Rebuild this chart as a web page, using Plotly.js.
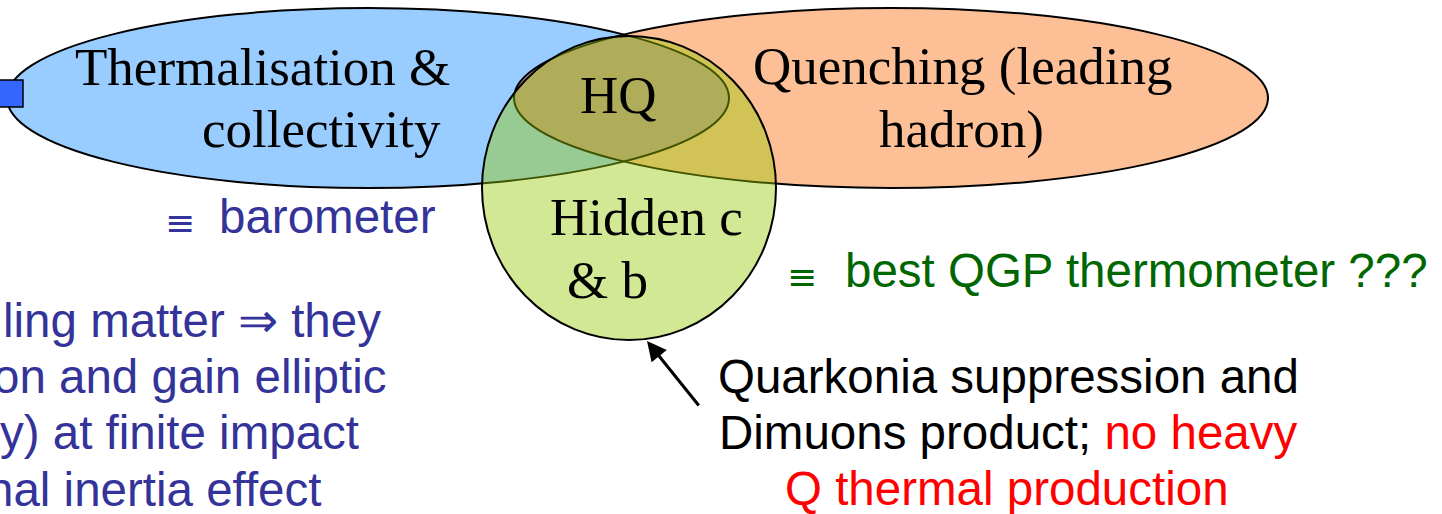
<!DOCTYPE html>
<html>
<head>
<meta charset="utf-8">
<script src="https://cdn.plot.ly/plotly-3.0.1.min.js"></script>
<style>html,body{margin:0;padding:0;background:#fff;overflow:hidden}#chart{width:1442px;height:514px}</style>
</head>
<body>
<div id="chart"></div>
<script>
// ---- content (text) ----
const setNames = ["Thermalisation &", "collectivity"];
const setNames2 = ["Quenching (leading", "hadron)"];
const overlapLabel = ["HQ"];
const circleLabel = ["Hidden c", "& b"];
const baroLabel = ["≡", "barometer"];
const thermoLabel = ["≡", "best QGP thermometer ???"];
const leftLines = ["ling matter ⇒ they", "on and gain elliptic", "y) at finite impact", "nal inertia effect"];
const noteLines = ["Quarkonia suppression and",
                   "Dimuons product; <span style='color:#ff0000'>no heavy</span>",
                   "<span style='color:#ff0000'>Q thermal production</span>"];

// ---- geometry (pixel-space layout) ----
const W = 1442, H = 514;
const blueE = {cx: 368, cy: 98, rx: 361, ry: 90};
const orangeE = {cx: 891, cy: 98, rx: 377, ry: 90};
const circ = {cx: 629, cy: 188, rx: 147, ry: 152};

function inside(e, x, y) {
  const dx = (x - e.cx) / e.rx, dy = (y - e.cy) / e.ry;
  return dx * dx + dy * dy <= 1;
}
function lensPath() {
  const pts = [];
  const N = 720;
  for (let i = 0; i <= N; i++) {
    const t = -Math.PI / 2 + Math.PI * i / N;
    const x = blueE.cx + blueE.rx * Math.cos(t), y = blueE.cy + blueE.ry * Math.sin(t);
    if (inside(orangeE, x, y)) pts.push([x, y]);
  }
  for (let i = 0; i <= N; i++) {
    const t = Math.PI / 2 + Math.PI * i / N;
    const x = orangeE.cx + orangeE.rx * Math.cos(t), y = orangeE.cy + orangeE.ry * Math.sin(t);
    if (inside(blueE, x, y)) pts.push([x, y]);
  }
  return "M" + pts.map(p => p[0].toFixed(2) + "," + p[1].toFixed(2)).join("L") + "Z";
}
function ell(e, fill, line) {
  return {type: "circle", xref: "x", yref: "y", layer: "above",
          x0: e.cx - e.rx, x1: e.cx + e.rx, y0: e.cy - e.ry, y1: e.cy + e.ry,
          fillcolor: fill, line: line};
}
const shapes = [
  ell(blueE, "#99ccff", {width: 0}),
  ell(orangeE, "#fdbf96", {width: 0}),
  {type: "path", xref: "x", yref: "y", layer: "above", path: lensPath(), fillcolor: "#c39a9b", line: {width: 0}},
  ell(blueE, "rgba(0,0,0,0)", {color: "#000", width: 2}),
  ell(orangeE, "rgba(0,0,0,0)", {color: "#000", width: 2}),
  ell(circ, "rgba(150,200,0,0.42)", {color: "#000", width: 2}),
  {type: "rect", xref: "x", yref: "y", layer: "above", x0: -6, x1: 23, y0: 80, y1: 107,
   fillcolor: "#3366ff", line: {color: "#000", width: 1.5}}
];

const serif = "Liberation Serif, Times New Roman, serif";
const sans = "Liberation Sans, Arial, sans-serif";
const math = "DejaVu Sans, sans-serif";
const SS = 53, SN = 47.5;
function ann(text, x, baseline, xanchor, size, family, color) {
  const k = family === serif ? 0.338 : 0.347;
  return {text: text, x: x, y: baseline - k * size, xref: "x", yref: "y",
          xanchor: xanchor, yanchor: "middle", showarrow: false,
          font: {size: size, family: family, color: color}};
}
function sym(text, x, yc, size, color) {
  return {text: text, x: x, y: yc, xref: "x", yref: "y", xanchor: "center", yanchor: "middle",
          showarrow: false, font: {size: size, family: math, color: color}};
}
const annotations = [
  ann(setNames[0], 452, 85, "right", SS, serif, "#000"),
  ann(setNames[1], 443, 147, "right", SS, serif, "#000"),
  ann(setNames2[0], 962, 84, "center", SS, serif, "#000"),
  ann(setNames2[1], 961, 147, "center", SS, serif, "#000"),
  ann(overlapLabel[0], 618, 113, "center", SS, serif, "#000"),
  ann(circleLabel[0], 548, 235, "left", SS, serif, "#000"),
  ann(circleLabel[1], 565, 298, "left", SS, serif, "#000"),
  sym(baroLabel[0], 180, 222, 36, "#333399"),
  ann(baroLabel[1], 217, 233, "left", SN, sans, "#333399"),
  sym(thermoLabel[0], 802, 276, 36, "#006600"),
  ann(thermoLabel[1], 843, 287, "left", SN, sans, "#006600"),
  ann(leftLines[0], 383, 337, "right", SN, sans, "#333399"),
  ann(leftLines[1], 388, 393, "right", SN, sans, "#333399"),
  ann(leftLines[2], 361, 449, "right", SN, sans, "#333399"),
  ann(leftLines[3], 323, 506, "right", SN, sans, "#333399"),
  ann(noteLines[0], 1008, 393, "center", SN, sans, "#000"),
  ann(noteLines[1], 1008, 449, "center", SN, sans, "#000"),
  ann(noteLines[2], 1007, 505, "center", SN, sans, "#000"),
  {x: 647, y: 341, ax: 700, ay: 407, xref: "x", yref: "y", axref: "x", ayref: "y",
   text: "", showarrow: true, arrowhead: 2, arrowsize: 1.3, arrowwidth: 3, arrowcolor: "#000"}
];

const layout = {
  width: W, height: H, margin: {l: 0, r: 0, t: 0, b: 0},
  paper_bgcolor: "#fff", plot_bgcolor: "#fff", showlegend: false,
  xaxis: {range: [0, W], visible: false, fixedrange: true},
  yaxis: {range: [H, 0], visible: false, fixedrange: true},
  shapes: shapes, annotations: annotations
};
Plotly.newPlot("chart", [{x: [], y: [], type: "scatter", mode: "markers", hoverinfo: "skip"}], layout,
  {staticPlot: true, displayModeBar: false});
</script>
</body>
</html>
